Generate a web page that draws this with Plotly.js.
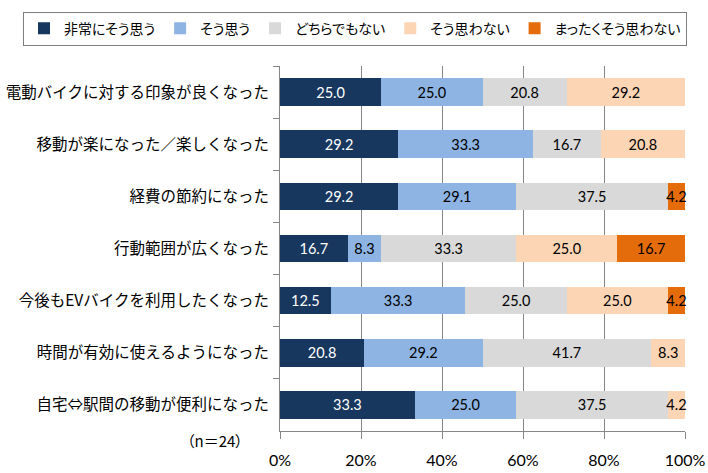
<!DOCTYPE html>
<html>
<head>
<meta charset="utf-8">
<script src="https://cdn.plot.ly/plotly-3.0.1.min.js"></script>
<style>
html,body{margin:0;padding:0;background:#fff;}
#chart{width:708px;height:473px;}
.legendtext, .annotation-text{font-feature-settings:"palt";}
</style>
</head>
<body>
<div id="chart"></div>
<script>
const categories = [
  "電動バイクに対する印象が良くなった",
  "移動が楽になった／楽しくなった",
  "経費の節約になった",
  "行動範囲が広くなった",
  "今後もEVバイクを利用したくなった",
  "時間が有効に使えるようになった",
  "自宅⇔駅間の移動が便利になった"
];
const seriesNames = ["非常にそう思う", "そう思う", "どちらでもない", "そう思わない", "まったくそう思わない"];
const strongAgree    = [25.0, 29.2, 29.2, 16.7, 12.5, 20.8, 33.3];
const agree          = [25.0, 33.3, 29.1,  8.3, 33.3, 29.2, 25.0];
const neutral        = [20.8, 16.7, 37.5, 33.3, 25.0, 41.7, 37.5];
const disagree       = [29.2, 20.8,  0.0, 25.0, 25.0,  8.3,  4.2];
const strongDisagree = [ 0.0,  0.0,  4.2, 16.7,  4.2,  0.0,  0.0];
const xTickVals = [0, 20, 40, 60, 80, 100];
const xTickText = ["0%", "20%", "40%", "60%", "80%", "100%"];
const sampleNote = "（n＝24）";

const seriesValues = [strongAgree, agree, neutral, disagree, strongDisagree];
const colors = ["#17375E", "#8DB4E2", "#D9D9D9", "#FCD5B5", "#E46C0A"];
const textColors = ["#FFFFFF", "#000000", "#000000", "#000000", "#000000"];
const cjk = '"Noto Sans CJK JP", sans-serif';
const num = 'Lato, "Noto Sans", sans-serif';

const traces = seriesValues.map((vals, i) => ({
  type: "bar",
  orientation: "h",
  name: seriesNames[i],
  y: categories,
  x: vals,
  text: vals.map(v => v > 0 ? v.toFixed(1) : ""),
  textposition: "inside",
  insidetextanchor: "middle",
  textangle: 0,
  constraintext: "none",
  cliponaxis: false,
  textfont: {family: num, size: 14.5, color: textColors[i]},
  marker: {color: colors[i], line: {width: 0}},
  hoverinfo: "none"
}));

const L = 280, R = 23, T = 61, B = 42;
const pw = 708 - L - R, ph = 473 - T - B;

const layout = {
  width: 708, height: 473,
  margin: {l: L, r: R, t: T, b: B, pad: 0},
  barmode: "stack",
  bargap: 0.47,
  paper_bgcolor: "#fff",
  plot_bgcolor: "#fff",
  showlegend: true,
  uniformtext: {mode: "show", minsize: 14.5},
  legend: {
    orientation: "h",
    x: (23 - L) / pw, xanchor: "left",
    y: (ph + T - 6) / ph, yanchor: "top",
    bordercolor: "#7F7F7F", borderwidth: 1,
    bgcolor: "#fff",
    font: {family: cjk, size: 14, color: "#000"},
    itemwidth: 30,
    traceorder: "normal",
    itemclick: false
  },
  xaxis: {
    range: [0, 100],
    tickvals: xTickVals,
    ticktext: xTickText,
    ticks: "outside", ticklen: 7, tickcolor: "#868686",
    ticklabelstandoff: 8,
    showgrid: true, gridcolor: "#868686", gridwidth: 1,
    showline: true, linecolor: "#868686", linewidth: 1,
    zeroline: false,
    tickfont: {family: num, size: 16, color: "#000"},
    fixedrange: true
  },
  yaxis: {
    type: "category",
    autorange: "reversed",
    ticks: "outside", ticklen: 6, tickcolor: "#868686",
    tickson: "boundaries",
    showline: true, linecolor: "#868686", linewidth: 1,
    showgrid: false,
    tickfont: {family: cjk, size: 15.5, color: "#000"},
    ticklabelstandoff: 7,
    fixedrange: true
  },
  annotations: [{
    text: sampleNote,
    xref: "paper", yref: "paper",
    x: (245 - L) / pw, xanchor: "right",
    y: -(441 - (T + ph)) / ph, yanchor: "middle",
    showarrow: false,
    font: {family: cjk, size: 15, color: "#000"}
  }]
};

Plotly.newPlot("chart", traces, layout, {displayModeBar: false, staticPlot: true});
</script>
</body>
</html>
